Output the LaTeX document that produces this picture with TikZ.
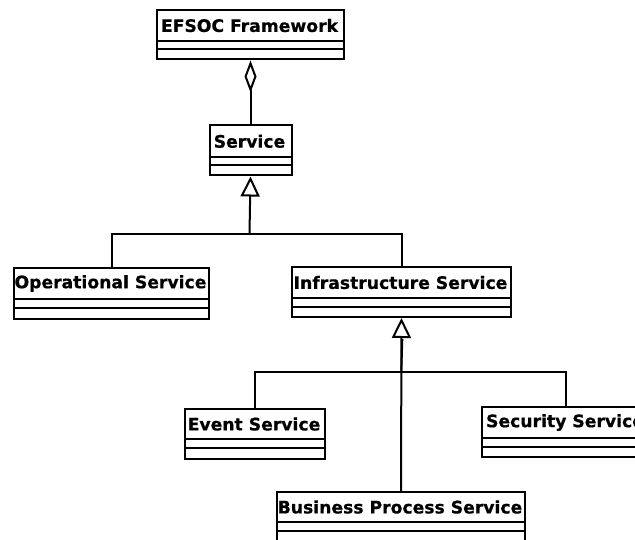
\documentclass[tikz,border=0pt]{standalone}
\usepackage{fontspec}
\setmainfont{DejaVu Sans}[BoldFeatures={FakeBold=0.6}]
\usetikzlibrary{arrows.meta}

% A UML class: name, left, top, right, title rule, second rule, bottom, title
\newcommand{\umlclass}[8]{%
  \node[classbox, minimum width={(#4-#2)*1pt}, minimum height={(#7-#3)*1pt},
        anchor=north west] (#1) at (#2,#3) {};
  \draw[classline] (#2,#5) -- (#4,#5) (#2,#6) -- (#4,#6);
  \node[classname] (#1-name) at ({(#2+#4)/2},{(#3+#5)/2+0.5}) {#8};
}

\tikzset{
  classbox/.style={draw=black, line width=2pt, fill=white, inner sep=0pt},
  classline/.style={line width=2pt},
  classname/.style={font=\bfseries\fontsize{17.2}{20}\selectfont, inner sep=0pt},
  conn/.style={line width=2pt},
  aggr/.style={conn, -{Diamond[open, length=32pt, width=12pt]}},
  gen/.style={conn, -{Triangle[open, length=20pt, width=19pt]}},
}

\begin{document}
\begin{tikzpicture}[x=1pt, y=-1pt]
\useasboundingbox (0,0) rectangle (635,540);
\clip (0,0) rectangle (635,540);
\fill[white] (0,0) rectangle (635,540);

\umlclass{efsoc}{156}{9}{343}{41}{49.5}{58.5}{EFSOC Framework}
\umlclass{service}{208.5}{124.5}{290.5}{157}{165}{174.5}{Service}
\umlclass{oper}{13}{267}{208}{299}{308}{318}{Operational Service}
\umlclass{infra}{291}{266}{510}{298}{307}{316}{Infrastructure Service}
\umlclass{event}{184}{408}{324}{439}{448}{458}{Event Service}
\umlclass{security}{481}{406}{649}{438}{447}{456}{Security Service}
\umlclass{business}{276}{491}{524}{522}{531}{560}{Business Process Service}

% aggregation
\draw[aggr] (service.north) -- (efsoc.south);

% generalisation of Service
\coordinate (j1) at (249.5,234);
\draw[conn] (oper.north) |- (j1) -| (infra.north);
\draw[gen] (j1) -- (service.south);

% generalisation of Infrastructure Service
\coordinate (j2) at (400.5,372);
\draw[conn] (event.north) |- (j2) -| (security.north);
\draw[gen] (business.north) -- (infra.south);
\draw[conn] ([xshift=0.8pt]j2) -- ([xshift=0.8pt, yshift=-21pt]infra.south);
\end{tikzpicture}
\end{document}
